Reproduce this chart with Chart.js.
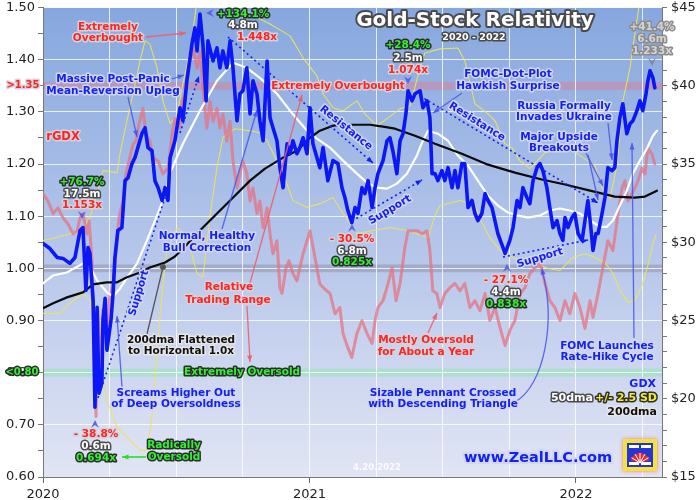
<!DOCTYPE html>
<html>
<head>
<meta charset="utf-8">
<script src="https://cdn.jsdelivr.net/npm/chart.js@4.4.1/dist/chart.umd.min.js"></script>
<style>html,body{margin:0;padding:0;background:#fff}canvas{display:block}</style>
</head>
<body>
<canvas id="c" width="700" height="500"></canvas>
<script>
// time axis = years since 1 Jan 2020
const yearLabels = ['2020', '2021', '2022'];
const ratioLabels = ['0.60', '0.70', '0.80', '0.90', '1.00', '1.10', '1.20', '1.30', '1.40', '1.50'];
const priceLabels = ['$15', '$20', '$25', '$30', '$35', '$40', '$45'];
const bandLevels = [1.35, 1.00, 0.80];

// GDX price (right axis)
const gdxT = [0,0.026,0.053,0.075,0.101,0.120,0.139,0.150,0.161,0.169,
  0.176,0.188,0.195,0.203,0.210,0.221,0.225,0.233,0.240,0.255,
  0.263,0.270,0.281,0.296,0.308,0.319,0.334,0.345,0.356,0.371,
  0.383,0.394,0.409,0.420,0.432,0.447,0.458,0.469,0.477,0.495,
  0.514,0.525,0.540,0.559,0.570,0.578,0.589,0.600,0.612,0.619,
  0.638,0.653,0.664,0.675,0.690,0.702,0.713,0.728,0.739,0.750,
  0.765,0.777,0.788,0.803,0.814,0.826,0.841,0.852,0.863,0.878,
  0.889,0.901,0.916,0.927,0.938,0.953,0.964,0.976,0.991,1.002,
  1.013,1.028,1.039,1.051,1.069,1.088,1.107,1.122,1.133,1.144,
  1.159,1.171,1.182,1.197,1.208,1.220,1.235,1.246,1.257,1.276,
  1.291,1.302,1.313,1.328,1.340,1.351,1.362,1.370,1.385,1.396,
  1.415,1.426,1.441,1.452,1.460,1.471,1.482,1.497,1.508,1.520,
  1.535,1.546,1.557,1.572,1.583,1.595,1.610,1.621,1.632,1.647,
  1.659,1.670,1.685,1.696,1.707,1.726,1.734,1.752,1.764,1.779,
  1.790,1.801,1.816,1.827,1.839,1.854,1.865,1.876,1.891,1.902,
  1.914,1.929,1.940,1.951,1.959,1.970,1.985,1.996,2.008,2.023,
  2.034,2.045,2.056,2.064,2.075,2.083,2.098,2.109,2.120,2.135,
  2.146,2.154,2.165,2.176,2.191,2.203,2.214,2.229,2.240,2.251,
  2.263,2.270,2.278,2.289,2.296];
const gdxV = [29.92,29.60,29.03,28.97,28.65,29.03,30.75,30.94,26.93,29.67,
  29.29,26.29,19.46,25.84,20.36,21.00,25.01,26.42,23.10,25.01,
  26.73,29.03,30.75,30.94,33.94,34.13,35.03,35.41,36.05,36.94,
  37.32,36.05,35.85,33.94,33.49,32.67,33.49,32.67,35.41,36.49,
  38.60,37.77,40.32,42.68,43.70,42.23,44.59,42.68,39.04,42.87,
  41.59,42.42,41.15,42.23,41.15,42.87,41.15,37.77,39.49,39.68,
  41.15,38.21,40.32,39.49,37.77,36.49,41.59,37.96,37.32,36.49,
  34.77,33.49,36.30,35.66,36.49,35.66,36.05,36.68,35.66,38.60,
  36.30,35.41,34.77,36.05,33.94,35.22,35.03,33.49,32.86,32.03,
  31.26,32.22,31.84,33.49,33.11,33.94,32.22,33.49,34.39,35.22,
  36.49,36.68,35.85,34.39,36.49,36.94,38.21,39.68,39.04,39.49,
  39.68,38.60,39.04,37.96,34.39,34.39,33.94,34.58,33.94,34.77,
  33.49,34.58,33.49,35.03,35.03,32.22,32.67,31.84,31.39,31.84,
  33.11,32.67,32.22,31.39,30.56,29.67,29.29,30.12,30.94,32.67,
  32.22,33.49,32.86,32.47,33.94,34.77,35.03,34.58,33.49,32.22,
  30.94,31.39,30.56,30.12,31.58,30.94,31.58,31.84,30.56,30.12,
  31.39,32.67,30.94,29.48,30.56,30.56,31.84,32.86,34.77,34.58,
  34.77,36.49,37.96,38.85,36.94,37.58,37.77,38.41,39.04,38.41,
  39.49,40.32,40.96,40.51,39.87];

// rGDX = GDX / 200dma (left axis)
const rgdxT = [0,0.019,0.038,0.056,0.075,0.094,0.113,0.128,0.139,0.150,
  0.165,0.173,0.184,0.191,0.199,0.206,0.218,0.225,0.240,0.248,
  0.263,0.274,0.285,0.300,0.311,0.323,0.338,0.349,0.360,0.375,
  0.386,0.401,0.413,0.432,0.450,0.469,0.484,0.495,0.514,0.522,
  0.533,0.544,0.563,0.578,0.589,0.600,0.615,0.627,0.638,0.653,
  0.664,0.675,0.690,0.702,0.713,0.728,0.739,0.750,0.765,0.777,
  0.788,0.803,0.814,0.826,0.841,0.852,0.863,0.878,0.889,0.897,
  0.912,0.923,0.938,0.953,0.976,1.002,1.021,1.039,1.058,1.077,
  1.096,1.114,1.126,1.144,1.159,1.178,1.197,1.216,1.235,1.246,
  1.257,1.276,1.295,1.310,1.325,1.340,1.358,1.370,1.388,1.407,
  1.422,1.441,1.452,1.463,1.478,1.490,1.508,1.527,1.546,1.565,
  1.583,1.602,1.621,1.640,1.659,1.677,1.696,1.715,1.734,1.752,
  1.771,1.790,1.809,1.827,1.846,1.865,1.884,1.902,1.921,1.940,
  1.959,1.977,1.996,2.015,2.034,2.053,2.064,2.083,2.101,2.120,
  2.139,2.158,2.173,2.184,2.195,2.210,2.221,2.233,2.248,2.259,
  2.270,2.285,2.296];
const rgdxV = [1.143,1.129,1.105,1.116,1.097,1.085,1.066,1.072,1.097,1.105,
  1.066,1.091,1.015,0.875,0.716,0.919,0.791,0.919,0.875,0.938,
  0.971,1.034,1.097,1.129,1.181,1.206,1.238,1.244,1.276,1.307,
  1.257,1.244,1.212,1.206,1.181,1.192,1.257,1.288,1.269,1.320,
  1.334,1.384,1.422,1.384,1.416,1.345,1.269,1.320,1.282,1.307,
  1.269,1.296,1.244,1.282,1.206,1.154,1.181,1.206,1.181,1.129,
  1.154,1.105,1.129,1.078,1.116,1.066,1.028,1.053,0.963,0.952,
  1.001,1.015,0.990,0.976,1.028,1.072,1.020,0.970,0.960,0.952,
  0.913,0.925,0.875,0.848,0.829,0.875,0.900,0.875,0.856,0.900,
  0.925,0.938,0.971,1.001,0.938,0.971,1.040,1.072,1.072,1.072,
  1.066,1.072,1.034,0.957,0.952,0.925,0.952,0.963,0.971,0.957,
  0.971,0.925,0.938,0.919,0.952,0.900,0.925,0.887,0.852,0.881,
  0.900,0.952,0.963,0.990,1.001,1.011,0.971,0.938,0.925,0.900,
  0.938,0.913,0.952,0.925,0.885,0.938,0.906,0.952,1.001,1.053,
  1.034,1.105,1.154,1.168,1.129,1.143,1.154,1.168,1.192,1.181,
  1.231,1.219,1.200];

// GDX 50dma
const ma50T = [0,0.038,0.090,0.150,0.176,0.203,0.240,0.263,0.289,0.319,
  0.353,0.390,0.428,0.458,0.477,0.525,0.589,0.653,0.713,0.765,
  0.814,0.878,0.927,0.991,1.028,1.077,1.126,1.178,1.216,1.253,
  1.291,1.328,1.366,1.403,1.422,1.445,1.482,1.520,1.557,1.595,
  1.632,1.670,1.707,1.745,1.782,1.820,1.865,1.902,1.940,1.977,
  2.015,2.053,2.090,2.116,2.139,2.165,2.191,2.214,2.240,2.266,
  2.289,2.304];
const ma50V = [27.37,27.88,28.07,28.65,28.46,27.56,26.80,26.54,27.05,27.82,
  28.65,30.11,31.71,33.00,34.45,36.30,38.41,40.32,41.47,41.15,
  40.51,39.49,38.41,37.13,36.62,36.05,35.22,34.39,33.81,33.49,
  33.43,33.75,34.39,35.54,36.36,37.13,36.94,36.49,35.54,34.90,
  33.94,32.98,32.35,31.90,31.71,31.58,31.71,32.03,32.16,32.03,
  31.84,31.39,30.99,30.99,31.39,32.35,33.30,34.39,35.22,35.98,
  36.81,37.13];

// GDX 200dma
const ma200T = [0,0.038,0.090,0.150,0.188,0.240,0.278,0.315,0.364,0.401,
  0.458,0.495,0.533,0.589,0.653,0.720,0.777,0.833,0.901,0.953,
  1.002,1.039,1.088,1.133,1.178,1.227,1.276,1.321,1.396,1.471,
  1.572,1.670,1.771,1.872,1.959,2.053,2.146,2.221,2.259,2.304];
const ma200V = [25.78,26.10,26.48,26.80,27.31,27.44,27.44,27.76,28.07,28.39,
  28.71,29.09,29.73,30.75,31.84,32.98,33.94,34.71,35.41,35.85,
  36.68,37.13,37.45,37.51,37.51,37.51,37.39,37.26,36.81,36.30,
  35.66,34.96,34.45,34.01,33.69,33.30,32.92,32.86,32.92,33.30];

// 50dma +2.5 SD
const upT = [0,0.053,0.101,0.139,0.176,0.203,0.225,0.278,0.289,0.315,
  0.338,0.364,0.383,0.401,0.428,0.450,0.477,0.503,0.525,0.552,
  0.578,0.608,0.645,0.683,0.720,0.777,0.852,0.927,0.976,1.028,
  1.051,1.088,1.126,1.178,1.208,1.253,1.291,1.340,1.377,1.407,
  1.433,1.490,1.557,1.583,1.621,1.670,1.696,1.734,1.760,1.790,
  1.827,1.884,1.940,1.989,2.026,2.071,2.098,2.128,2.154,2.176,
  2.203,2.221,2.240,2.278,2.304];
const upV = [30.11,30.31,30.56,30.63,31.58,33.11,34.58,34.45,35.66,37.77,
  39.49,41.59,42.87,42.68,41.15,39.04,37.58,38.09,40.13,42.23,
  45.42,48.00,50.00,48.00,45.42,44.59,43.95,43.19,41.79,40.64,
  39.49,38.60,38.41,39.04,38.21,37.45,37.90,38.53,38.72,40.64,
  42.10,42.36,42.42,41.59,38.85,38.21,37.77,36.30,36.05,35.22,
  34.71,35.73,35.98,35.85,35.41,34.90,33.49,32.79,34.90,39.04,
  41.15,43.32,45.42,48.00,49.00];

// 50dma -2.5 SD
const loT = [0,0.064,0.101,0.150,0.176,0.214,0.240,0.278,0.326,0.364,
  0.390,0.409,0.428,0.450,0.465,0.503,0.540,0.578,0.600,0.627,
  0.653,0.675,0.720,0.777,0.814,0.841,0.901,0.938,0.991,1.039,
  1.088,1.126,1.178,1.238,1.302,1.366,1.445,1.471,1.490,1.565,
  1.621,1.647,1.677,1.715,1.745,1.790,1.846,1.895,1.940,1.989,
  2.034,2.071,2.109,2.139,2.165,2.195,2.221,2.248,2.270,2.289,
  2.300];
const loV = [25.46,25.46,26.10,26.73,26.29,22.46,19.91,18.19,17.36,16.72,
  16.72,18.83,23.10,27.37,29.48,30.94,30.43,28.01,27.76,31.71,
  34.77,36.68,37.26,37.13,37.00,36.49,34.39,32.67,32.22,32.47,
  32.86,31.84,30.56,30.75,30.94,30.75,30.31,31.71,32.35,32.67,
  32.35,31.26,30.31,29.48,29.16,28.84,28.71,28.33,28.20,29.03,
  29.29,29.03,28.71,28.01,26.93,26.16,26.29,27.24,28.52,29.92,
  30.43];

const FONT = '"DejaVu Sans", Verdana, sans-serif';
const BLUE = '#1222f2';
const RED = '#ff2424';
const GREEN = '#33ee33';
const ARROW_B = 'rgba(70,85,235,0.85)';
const ARROW_R = 'rgba(235,95,110,0.9)';
const STY = {
  r: [RED, '#d3d3dc'],
  b: [BLUE, '#d3d6ec'],
  g: [GREEN, '#2b2b2b'],
  w: ['#ffffff', '#4a4a4a'],
  k: ['#111111', '#e6e6e6'],
  y: ['#f4ee2e', '#2b2b2b'],
  s: ['#d4d4d4', '#8c8c8c']
};

const pts = (t, v) => t.map((x, i) => ({ x, y: v[i] }));
const isMajor = (v, step) => Math.abs(Math.round(v / step) * step - v) < 1e-6;

function label(c, s, x, y, sty, size = 10.5, align = 'center', lw = 3) {
  c.font = `bold ${size}px ${FONT}`;
  c.textAlign = align;
  c.textBaseline = 'middle';
  c.lineJoin = 'round';
  c.lineWidth = lw;
  c.strokeStyle = STY[sty][1];
  c.strokeText(s, x, y);
  c.fillStyle = STY[sty][0];
  c.fillText(s, x, y);
}

function rlabel(c, s, x, y, deg, sty) {
  c.save();
  c.translate(x, y);
  c.rotate(deg * Math.PI / 180);
  label(c, s, 0, 0, sty);
  c.restore();
}

function head(c, x1, y1, x2, y2, color, len) {
  const a = Math.atan2(y2 - y1, x2 - x1);
  c.fillStyle = color;
  c.beginPath();
  c.moveTo(x2, y2);
  c.lineTo(x2 - len * Math.cos(a - 0.38), y2 - len * Math.sin(a - 0.38));
  c.lineTo(x2 - len * Math.cos(a + 0.38), y2 - len * Math.sin(a + 0.38));
  c.closePath();
  c.fill();
}

function arrow(c, x1, y1, x2, y2, color, o = {}) {
  c.save();
  c.strokeStyle = color;
  c.lineWidth = o.w || 1.3;
  c.setLineDash(o.dash || []);
  c.beginPath();
  c.moveTo(x1, y1);
  c.lineTo(x2, y2);
  c.stroke();
  c.restore();
  if (o.head !== false) head(c, x1, y1, x2, y2, color, o.len || 7);
}

function pointer(c, x, y, dir, color) {
  const d = { down: [0, 1], up: [0, -1], left: [-1, 0] }[dir];
  const px = -d[1], py = d[0];
  c.fillStyle = color;
  c.beginPath();
  c.moveTo(x + d[0] * 4, y + d[1] * 4);
  c.lineTo(x - d[0] * 4 + px * 4, y - d[1] * 4 + py * 4);
  c.lineTo(x - d[0] * 1, y - d[1] * 1);
  c.lineTo(x - d[0] * 4 - px * 4, y - d[1] * 4 - py * 4);
  c.closePath();
  c.fill();
}

function logo(c, x, y) {
  c.save();
  c.shadowColor = 'rgba(255,80,80,0.7)';
  c.shadowBlur = 4;
  c.fillStyle = '#f3e33a';
  c.fillRect(x, y, 34, 32);
  c.shadowBlur = 0;
  c.fillStyle = '#2437d4';
  c.fillRect(x + 4, y + 4, 26, 24);
  c.fillStyle = '#ffffff';
  c.fillRect(x + 6, y + 6, 10, 3);
  c.fillRect(x + 18, y + 6, 10, 3);
  c.fillRect(x + 6, y + 23, 10, 3);
  c.fillRect(x + 18, y + 23, 10, 3);
  c.beginPath();
  c.moveTo(x + 17, y + 24);
  c.arc(x + 17, y + 24, 10, Math.PI * 1.1, Math.PI * 1.9);
  c.closePath();
  c.fillStyle = '#e82a2a';
  c.fill();
  c.strokeStyle = '#ffffff';
  c.lineWidth = 1;
  for (let k = 0; k < 5; k++) {
    const a = Math.PI * (1.18 + k * 0.16);
    c.beginPath();
    c.moveTo(x + 17, y + 24);
    c.lineTo(x + 17 + 10 * Math.cos(a), y + 24 + 10 * Math.sin(a));
    c.stroke();
  }
  c.restore();
}

const notes = [
  ['Extremely', 108, 27, 'r'], ['Overbought', 108, 38, 'r'],
  ['Massive Post-Panic', 113, 79, 'b'], ['Mean-Reversion Upleg', 113, 91, 'b'],
  ['+76.7%', 82, 182, 'g'], ['17.5m', 82, 194, 'w'], ['1.153x', 82, 205, 'r'],
  ['+134.1%', 243, 14, 'g'], ['4.8m', 243, 25, 'w'], ['1.448x', 257, 37, 'r'],
  ['Extremely Overbought', 338, 86, 'r'],
  ['Normal, Healthy', 207, 236, 'b'], ['Bull Correction', 207, 248, 'b'],
  ['Relative', 229, 287, 'r'], ['Trading Range', 228, 300, 'r'],
  ['200dma Flattened', 181, 340, 'k'], ['to Horizontal 1.0x', 181, 351, 'k'],
  ['Extremely Oversold', 242, 372, 'g'],
  ['Screams Higher Out', 176, 393, 'b'], ['of Deep Oversoldness', 176, 404, 'b'],
  ['- 38.8%', 96, 434, 'r'], ['0.6m', 96, 446, 'w'], ['0.694x', 96, 458, 'g'],
  ['Radically', 174, 445, 'g'], ['Oversold', 174, 457, 'g'],
  ['- 30.5%', 352, 239, 'r'], ['6.8m', 352, 251, 'w'], ['0.825x', 352, 262, 'g'],
  ['+28.4%', 408, 45, 'g'], ['2.5m', 408, 58, 'w'], ['1.074x', 408, 70, 'r'],
  ['FOMC-Dot-Plot', 508, 74, 'b'], ['Hawkish Surprise', 508, 86, 'b'],
  ['- 27.1%', 506, 280, 'r'], ['4.4m', 506, 292, 'w'], ['0.838x', 506, 304, 'g'],
  ['Mostly Oversold', 426, 340, 'r'], ['for About a Year', 426, 352, 'r'],
  ['Sizable Pennant Crossed', 443, 393, 'b'], ['with Descending Triangle', 443, 404, 'b'],
  ['Russia Formally', 564, 106, 'b'], ['Invades Ukraine', 564, 117, 'b'],
  ['Major Upside', 559, 137, 'b'], ['Breakouts', 559, 148, 'b'],
  ['FOMC Launches', 607, 346, 'b'], ['Rate-Hike Cycle', 607, 357, 'b'],
  ['+41.4%', 652, 27, 's'], ['6.6m', 652, 39, 's'], ['1.233x', 652, 51, 's']
];

const backdrop = {
  id: 'backdrop',
  beforeDraw(chart) {
    const { ctx: c, chartArea: a } = chart;
    const yL = chart.scales.yL;
    c.save();
    c.fillStyle = '#ffffff';
    c.fillRect(0, 0, chart.width, chart.height);
    const g = c.createLinearGradient(0, a.top, 0, a.bottom);
    g.addColorStop(0, '#86a7de');
    g.addColorStop(0.5, '#b4c5ea');
    g.addColorStop(1, '#e1e5f4');
    c.fillStyle = g;
    c.fillRect(a.left, a.top, a.right - a.left, a.bottom - a.top);
    const bandCol = ['rgba(214,128,150,0.5)', 'rgba(125,125,150,0.38)', 'rgba(140,232,170,0.5)'];
    bandLevels.forEach((lv, i) => {
      const y1 = yL.getPixelForValue(lv + 0.0075);
      const y2 = yL.getPixelForValue(lv - 0.0075);
      c.fillStyle = bandCol[i];
      c.fillRect(a.left, y1, a.right - a.left, y2 - y1);
    });
    c.restore();
  }
};

const annotations = {
  id: 'annotations',
  afterDraw(chart) {
    const c = chart.ctx;
    c.save();
    // trend lines
    const dot = { dash: [2, 3], w: 1.6 };
    arrow(c, 98, 398, 166, 195, BLUE, { ...dot, head: false });
    arrow(c, 180, 133, 199, 76, BLUE, dot);
    arrow(c, 228, 37, 373, 163, BLUE, dot);
    arrow(c, 352, 221, 422, 180, BLUE, dot);
    arrow(c, 420, 96, 598, 203, BLUE, dot);
    arrow(c, 503, 257, 588, 240, BLUE, dot);
    // pointer arrows
    arrow(c, 146, 37, 186, 33, ARROW_R);
    arrow(c, 172, 79, 184, 75, ARROW_B);
    arrow(c, 128, 97, 137, 137, ARROW_B);
    arrow(c, 222, 229, 257, 110, ARROW_B);
    arrow(c, 250, 283, 302, 95, ARROW_R);
    arrow(c, 247, 306, 250, 362, ARROW_R);
    arrow(c, 122, 387, 117, 316, ARROW_B);
    arrow(c, 146, 457, 122, 457, '#2ddc2d', { w: 1.6 });
    arrow(c, 462, 93, 433, 113, ARROW_B);
    arrow(c, 428, 333, 437, 313, ARROW_R);
    arrow(c, 608, 123, 612, 160, ARROW_B);
    arrow(c, 586, 153, 603, 186, ARROW_B);
    arrow(c, 588, 155, 598, 200, ARROW_B);
    arrow(c, 634, 338, 632, 143, ARROW_B);
    c.strokeStyle = ARROW_B;
    c.lineWidth = 1.3;
    c.beginPath();
    c.moveTo(515, 402);
    c.bezierCurveTo(545, 385, 556, 320, 542, 270);
    c.stroke();
    head(c, 544, 280, 542, 268, ARROW_B, 7);
    c.strokeStyle = '#555';
    c.beginPath();
    c.moveTo(147, 334);
    c.lineTo(163, 267);
    c.stroke();
    c.fillStyle = '#555';
    c.beginPath();
    c.arc(163, 267, 3, 0, Math.PI * 2);
    c.fill();
    // small pointers at turning points
    pointer(c, 82, 215, 'down', 'rgba(80,90,225,0.9)');
    pointer(c, 95, 424, 'up', 'rgba(80,90,225,0.9)');
    pointer(c, 210, 13, 'left', 'rgba(80,90,225,0.9)');
    pointer(c, 408, 80, 'down', 'rgba(80,90,225,0.9)');
    pointer(c, 352, 228, 'up', 'rgba(80,90,225,0.9)');
    pointer(c, 507, 268, 'up', 'rgba(80,90,225,0.9)');
    pointer(c, 652, 62, 'down', 'rgba(130,130,140,0.9)');
    // text
    notes.forEach(([s, x, y, sty]) => label(c, s, x, y, sty));
    rlabel(c, 'Support', 139, 293, -73, 'b');
    rlabel(c, 'Resistance', 346, 128, 39, 'b');
    rlabel(c, 'Support', 390, 210, -31, 'b');
    rlabel(c, 'Resistance', 477, 122, 32, 'b');
    rlabel(c, 'Support', 540, 258, -17, 'b');
    label(c, '>1.35', 23, 85, 'r', 10);
    label(c, '<0.80', 22, 372, 'g', 10);
    label(c, 'rGDX', 63, 137, 'r', 11.5);
    label(c, 'Gold-Stock Relativity', 475, 21, 'w', 20, 'center', 4);
    label(c, '2020 - 2022', 474, 38, 'w', 9.5);
    c.font = `bold 8.5px ${FONT}`;
    c.textAlign = 'center';
    c.fillStyle = 'rgba(255,255,255,0.85)';
    c.fillText('4.20.2022', 377, 468);
    label(c, 'www.ZealLLC.com', 538, 458, 'b', 14.5, 'center', 4.5);
    logo(c, 623, 439);
    // legend
    label(c, 'GDX', 656, 384, 'b', 11, 'right');
    label(c, '50dma', 593, 398, 'w', 11, 'right');
    label(c, '+/- 2.5 SD', 657, 398, 'y', 11, 'right');
    label(c, '200dma', 657, 412, 'k', 11, 'right');
    c.restore();
  }
};

const line = (t, v, axis, color, width, order) => ({
  data: pts(t, v), yAxisID: axis, borderColor: color, borderWidth: width,
  pointRadius: 0, fill: false, tension: 0, order,
  borderJoinStyle: 'round', borderCapStyle: 'round'
});

const xFont = { family: FONT, size: 13, lineHeight: 1 };
const yFont = { family: FONT, size: 13, lineHeight: 0.55 };

new Chart(document.getElementById('c'), {
  type: 'line',
  data: {
    datasets: [
      line(gdxT, gdxV, 'yR', '#0b17f4', 3.6, 0),
      line(ma200T, ma200V, 'yR', '#0a0a0a', 2.2, 1),
      line(ma50T, ma50V, 'yR', '#ffffff', 2.2, 2),
      line(rgdxT, rgdxV, 'yL', 'rgba(230,115,128,0.74)', 3, 3),
      line(upT, upV, 'yR', 'rgba(238,228,85,0.92)', 1.1, 4),
      line(loT, loV, 'yR', 'rgba(238,228,85,0.92)', 1.1, 5)
    ]
  },
  options: {
    responsive: false,
    animation: false,
    devicePixelRatio: 1,
    layout: { padding: 0 },
    plugins: { legend: { display: false }, tooltip: { enabled: false } },
    scales: {
      x: {
        type: 'linear', min: 0, max: 2.323,
        afterBuildTicks: s => { s.ticks = [0, 0.25, 0.5, 0.75, 1, 1.25, 1.5, 1.75, 2, 2.25].map(value => ({ value })); },
        afterFit: s => { s.height = 23; },
        border: { color: '#777' },
        grid: {
          color: 'rgba(255,255,255,0.8)', tickLength: 6,
          tickColor: c => Number.isInteger(c.tick && c.tick.value) ? '#666' : 'rgba(0,0,0,0)'
        },
        ticks: {
          autoSkip: false, maxRotation: 0, padding: 5, color: '#222', font: xFont,
          callback: v => Number.isInteger(v) ? yearLabels[v] : ''
        }
      },
      yL: {
        position: 'left', min: 0.6, max: 1.5,
        afterBuildTicks: s => {
          s.ticks = Array.from({ length: 19 }, (_, i) => ({ value: +(0.6 + i * 0.05).toFixed(2) }));
        },
        afterFit: s => { s.width = 43; },
        border: { color: '#777' },
        grid: {
          tickLength: 5, tickColor: '#777',
          color: c => c.tick && isMajor(c.tick.value, 0.1) ? 'rgba(255,255,255,0.8)' : 'rgba(0,0,0,0)'
        },
        ticks: {
          autoSkip: false, padding: 3, color: '#222', font: yFont,
          callback: v => isMajor(v, 0.1) ? ratioLabels[Math.round((v - 0.6) * 10)] : ''
        }
      },
      yR: {
        position: 'right', min: 15, max: 45,
        afterBuildTicks: s => { s.ticks = Array.from({ length: 31 }, (_, i) => ({ value: 15 + i })); },
        afterFit: s => { s.width = 38; },
        border: { color: '#777' },
        grid: { drawOnChartArea: false, tickLength: 5, tickColor: '#777' },
        ticks: {
          autoSkip: false, padding: 4, color: '#222', font: yFont,
          callback: v => v % 5 === 0 ? priceLabels[(v - 15) / 5] : ''
        }
      }
    }
  },
  plugins: [backdrop, annotations]
});
</script>
</body>
</html>
